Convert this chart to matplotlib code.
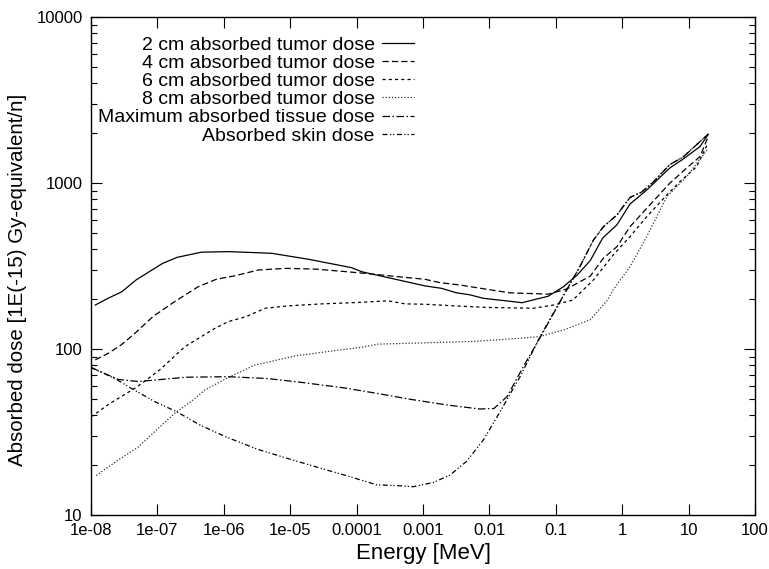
import matplotlib
matplotlib.use("Agg")
import matplotlib.pyplot as plt
from matplotlib.ticker import LogLocator, FixedLocator, FixedFormatter, NullLocator

plt.rcParams['font.family'] = ['Liberation Sans', 'DejaVu Sans']

# ---- data ----
E2 = [1.16e-8, 1.8e-8, 2.9e-8, 4.8e-8, 1.2e-7, 2.0e-7, 4.6e-7, 1.16e-6, 3.3e-6, 5.3e-6,
      1.9e-5, 8.4e-5, 1.2e-4, 1.07e-3, 1.9e-3, 3.2e-3, 5.1e-3, 8.1e-3, 1.8e-2, 3.1e-2,
      7.7e-2, 0.13, 0.21, 0.33, 0.51, 0.83, 1.31, 2.34, 5.2, 8.3, 14.8, 19.8]
Y2 = [184, 202, 221, 261, 328, 357, 383, 386, 380, 377,
      347, 309, 292, 240, 232, 218, 212, 202, 195, 190,
      208, 237, 279, 341, 467, 559, 747, 907, 1231, 1395, 1656, 1964]

E4 = [1.16e-8, 1.8e-8, 2.86e-8, 4.55e-8, 8.6e-8, 1.82e-7, 4.1e-7, 7.7e-7, 1.46e-6, 3.3e-6,
      8.4e-6, 2.4e-5, 5.3e-5, 1.06e-4, 2.4e-4, 5.4e-4, 1.07e-3, 1.8e-3, 3.6e-3, 9.1e-3,
      2.04e-2, 7.7e-2, 0.146, 0.33, 0.52, 0.83, 1.31, 2.34, 5.2, 9.3, 14.8, 19.6]
Y4 = [86, 94, 106, 124, 157, 193, 237, 263, 276, 299,
      306, 303, 295, 288, 279, 270, 263, 251, 243, 229,
      218, 214, 230, 275, 352, 413, 545, 704, 996, 1228, 1440, 1892]

E6 = [1.0e-8, 1.93e-8, 4.9e-8, 1.09e-7, 2.57e-7, 7.3e-7, 1.16e-6, 2.2e-6, 4.2e-6, 9.4e-6,
      3.0e-5, 8.4e-5, 3.0e-4, 5.4e-4, 1.07e-3, 2.9e-3, 9.1e-3, 4.6e-2, 9.2e-2, 0.18,
      0.37, 0.73, 1.31, 2.34, 4.7, 7.4, 13.2, 19.6]
Y6 = [39, 47, 59, 75, 103, 133, 146, 157, 176, 182,
      187, 190, 195, 187, 186, 182, 178, 176, 184, 197,
      261, 368, 475, 627, 847, 1019, 1254, 1741]

E8 = [1.2e-8, 2.55e-8, 5.1e-8, 9.1e-8, 1.82e-7, 3.2e-7, 5.2e-7, 1.16e-6, 2.95e-6, 1.18e-5,
      4.7e-5, 1.19e-4, 2.1e-4, 1.14e-3, 5.7e-3, 2.9e-2, 5.8e-2, 0.13, 0.33, 0.6,
      0.73, 1.31, 2.34, 4.7, 9.3, 19.6]
Y8 = [17.3, 21.4, 25.6, 31.8, 41.0, 48.2, 56.6, 67.3, 80.1, 90.8,
      97.8, 102.4, 107, 109, 111, 116, 119, 130, 150, 197,
      227, 313, 475, 827, 1091, 1610]

Et = [1.0e-8, 2.55e-8, 5.1e-8, 9.1e-8, 2.7e-7, 1.16e-6, 4.5e-6, 1.4e-5, 6.3e-5, 2.0e-4,
      6.4e-4, 2.3e-3, 7.2e-3, 1.17e-2, 1.84e-2, 3.24e-2, 5.8e-2, 0.116, 0.23, 0.37,
      0.52, 0.83, 1.31, 1.97, 2.94, 5.2, 8.3, 19.8]
Yt = [77.4, 65.6, 63.7, 65.0, 67.6, 68.1, 66.4, 63.1, 58.4, 54.1,
      49.8, 46.0, 43.5, 43.8, 51.6, 78.2, 117, 193, 313, 454,
      545, 641, 818, 883, 1014, 1291, 1435, 1973]

Es = [1.0e-8, 2.28e-8, 4.05e-8, 9.1e-8, 1.95e-7, 4.4e-7, 1.11e-6, 3.3e-6, 1.11e-5, 3.5e-5,
      8.0e-5, 2.0e-4, 4.5e-4, 7.1e-4, 1.43e-3, 2.55e-3, 4.5e-3, 8.1e-3, 1.45e-2, 2.29e-2,
      2.9e-2, 5.8e-2, 0.116, 0.23, 0.37, 0.52, 0.83, 1.31, 1.97, 2.94,
      5.2, 8.3, 19.8]
Ys = [77.4, 66.5, 57.9, 48.2, 41.9, 34.8, 29.4, 24.8, 21.4, 18.7,
      17.0, 15.2, 15.0, 14.8, 15.7, 17.4, 21.0, 28.3, 41.9, 57.9,
      68.1, 119, 193, 313, 454, 545, 641, 818, 883, 1014,
      1291, 1435, 1973]

labels = ["2 cm absorbed tumor dose", "4 cm absorbed tumor dose",
          "6 cm absorbed tumor dose", "8 cm absorbed tumor dose",
          "Maximum absorbed tissue dose", "Absorbed skin dose"]

xtick_vals = [1e-8, 1e-7, 1e-6, 1e-5, 1e-4, 1e-3, 1e-2, 1e-1, 1, 10, 100]
xtick_labels = ["1e-08", "1e-07", "1e-06", "1e-05", "0.0001", "0.001", "0.01", "0.1", "1", "10", "100"]
ytick_vals = [10, 100, 1000, 10000]
ytick_labels = ["10", "100", "1000", "10000"]

# ---- figure ----
fig = plt.figure(figsize=(7.69, 5.69), dpi=100)
ax = fig.add_axes([91/769, 1-515/569, (755-91)/769, (515-17)/569])

series = [(E2, Y2), (E4, Y4), (E6, Y6), (E8, Y8), (Et, Yt), (Es, Ys)]
styles = ['-', (0, (5, 2.5)), (0, (2.5, 2.5)), (0, (1, 1.5)),
          (0, (6, 2, 1.2, 2)), (0, (4, 2, 1, 1.5, 1, 2))]
colors = ['black', 'black', 'black', '#333333', 'black', 'black']
for (x, y), ls, lab, c in zip(series, styles, labels, colors):
    ax.plot(x, y, color=c, lw=0.9, ls=ls, label=lab)

ax.set_xscale('log')
ax.set_yscale('log')
ax.set_xlim(1e-8, 100)
ax.set_ylim(10, 10000)

ax.xaxis.set_major_locator(FixedLocator(xtick_vals))
ax.xaxis.set_major_formatter(FixedFormatter(xtick_labels))
ax.xaxis.set_minor_locator(NullLocator())
ax.yaxis.set_major_locator(FixedLocator(ytick_vals))
ax.yaxis.set_major_formatter(FixedFormatter(ytick_labels))
ax.yaxis.set_minor_locator(LogLocator(base=10, subs=range(2, 10), numticks=20))

ax.tick_params(which='both', direction='in', top=True, right=True, width=0.8, labelsize=12)
ax.tick_params(which='major', length=8, pad=6)
ax.tick_params(which='minor', length=4)
for s in ax.spines.values():
    s.set_linewidth(1.0)

ax.set_xlabel("Energy [MeV]", fontsize=16, labelpad=3)
ax.set_ylabel("Absorbed dose [1E(-15) Gy-equivalent/n]", fontsize=14.8)
ax.yaxis.set_label_coords(-0.097, 0.473)

leg = ax.legend(loc='upper right', bbox_to_anchor=(0.486, 0.962), frameon=False,
                markerfirst=False, fontsize=14, handlelength=1.65, handletextpad=0.35,
                labelspacing=0.03, borderpad=0.0, borderaxespad=0.0)

fig.savefig("out.png", dpi=100)
